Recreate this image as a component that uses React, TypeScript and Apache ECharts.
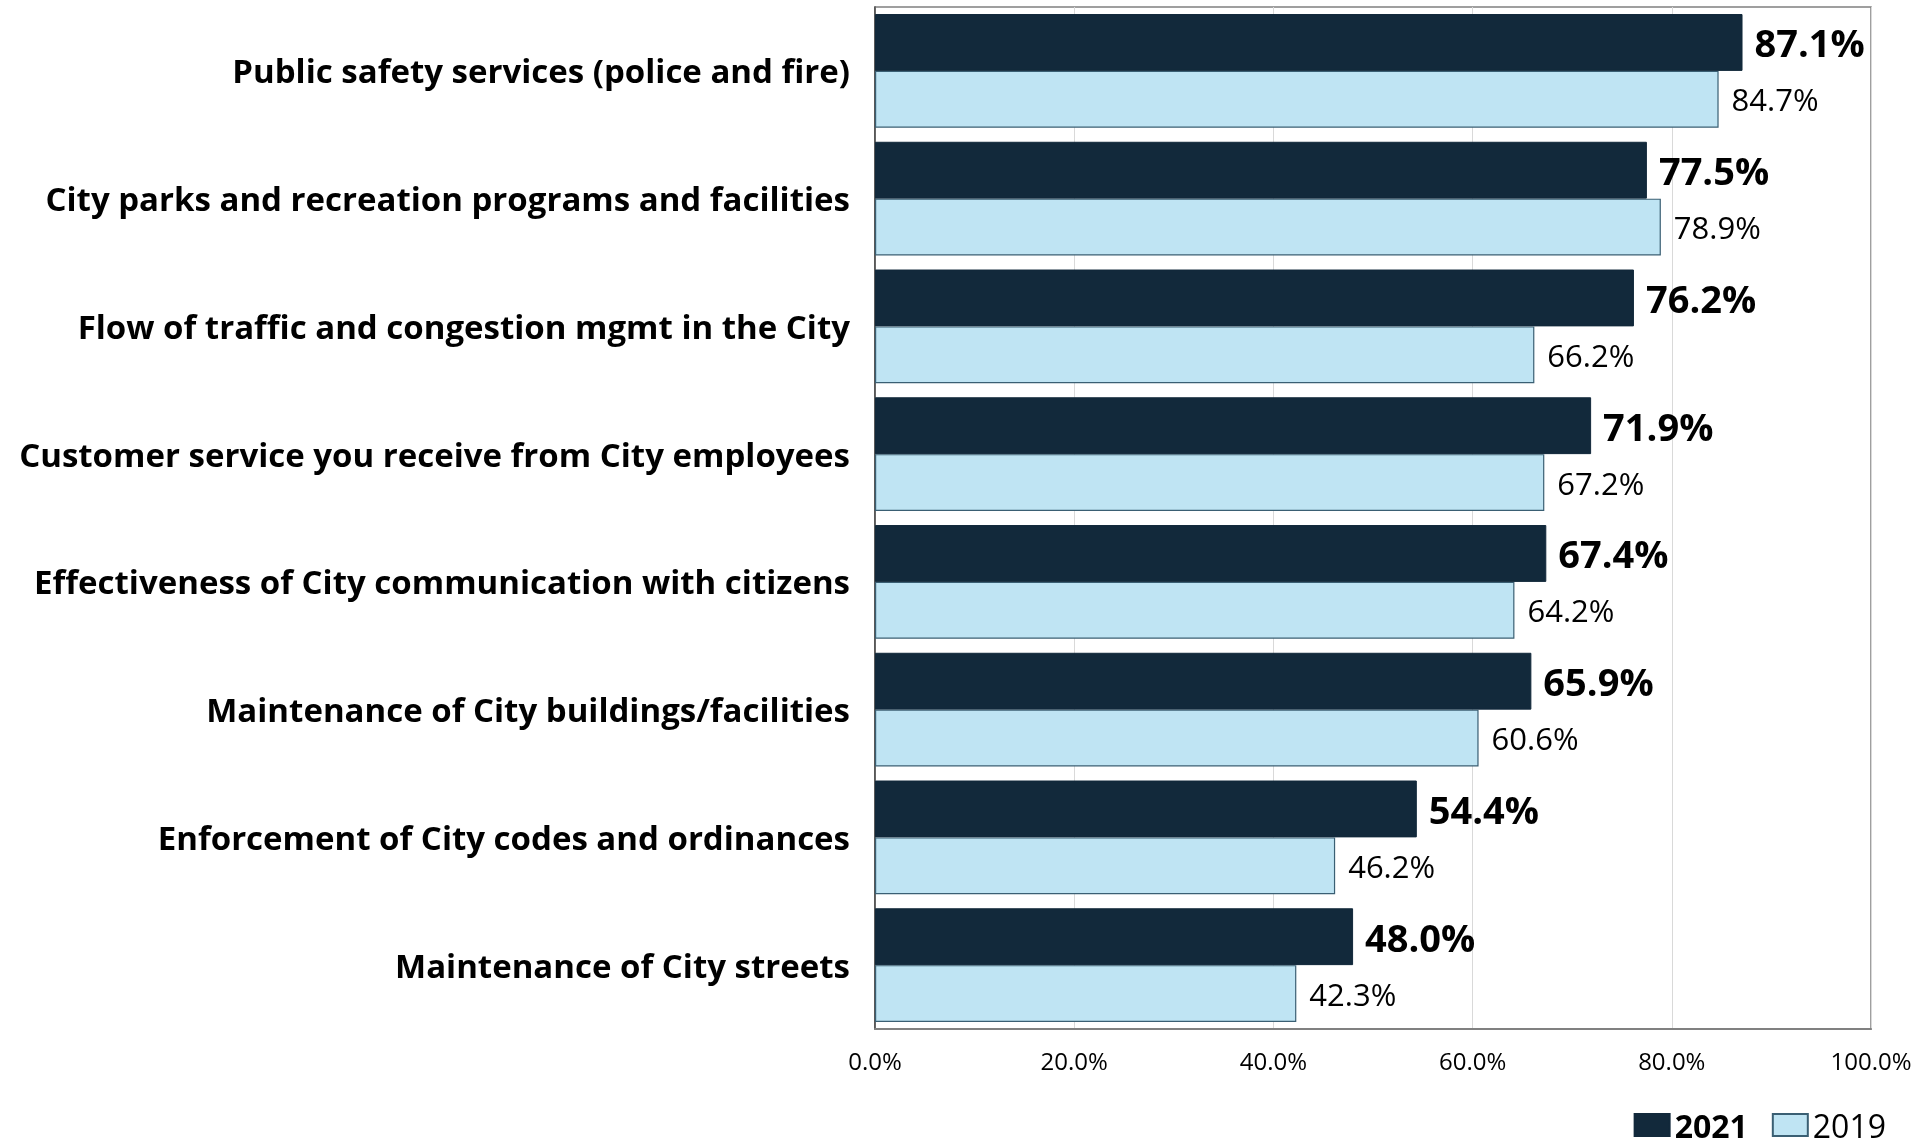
import React, { useEffect, useRef } from "react";
import * as echarts from "echarts";

const categories = [
  "Public safety services (police and fire)",
  "City parks and recreation programs and facilities",
  "Flow of traffic and congestion mgmt in the City",
  "Customer service you receive from City employees",
  "Effectiveness of City communication with citizens",
  "Maintenance of City buildings/facilities",
  "Enforcement of City codes and ordinances",
  "Maintenance of City streets",
];
const values2021 = [87.1, 77.5, 76.2, 71.9, 67.4, 65.9, 54.4, 48.0];
const values2019 = [84.7, 78.9, 66.2, 67.2, 64.2, 60.6, 46.2, 42.3];
const xTicks = [0, 20, 40, 60, 80, 100];

const FONT = "'Open Sans', 'Noto Sans', sans-serif";

export default function App() {
  const ref = useRef<HTMLDivElement>(null);
  useEffect(() => {
    if (!ref.current) return;
    const chart = echarts.init(ref.current, undefined, { renderer: "svg" });
    chart.setOption({
      animation: false,
      textStyle: { fontFamily: FONT },
      grid: {
        left: 875,
        right: 60,
        top: 7,
        bottom: 118,
        show: true,
        borderColor: "#808080",
        borderWidth: 1.5,
        containLabel: false,
      },
      legend: {
        right: 45,
        top: 1108,
        padding: 0,
        icon: "rect",
        itemWidth: 35,
        itemHeight: 22,
        itemGap: 24,
        textStyle: { fontFamily: FONT, fontSize: 32, lineHeight: 34, color: "#000" },
        data: [
          { name: "2021", textStyle: { fontWeight: "bold" } },
          { name: "2019", textStyle: { fontWeight: "normal" } },
        ],
      },
      xAxis: {
        type: "value",
        min: xTicks[0],
        max: xTicks[xTicks.length - 1],
        interval: 20,
        axisLine: { show: true, lineStyle: { color: "#808080", width: 2 } },
        axisTick: { show: false },
        splitLine: { show: true, lineStyle: { color: "#d9d9d9", width: 1 } },
        axisLabel: {
          margin: 19,
          fontSize: 24,
          color: "#000",
          fontFamily: FONT,
          formatter: (v: number) => v.toFixed(1) + "%",
        },
      },
      yAxis: {
        type: "category",
        inverse: true,
        data: categories,
        axisLine: { show: true, lineStyle: { color: "#404040", width: 1.5 } },
        axisTick: { show: false },
        axisLabel: {
          margin: 25,
          fontSize: 33,
          fontWeight: "bold",
          color: "#000",
          fontFamily: FONT,
        },
      },
      series: [
        {
          name: "2021",
          type: "bar",
          data: values2021,
          barGap: "0%",
          barCategoryGap: "11%",
          itemStyle: { color: "#12293b", borderColor: "#12293b", borderWidth: 1 },
          label: {
            show: true,
            position: "right",
            distance: 12,
            fontSize: 38,
            fontWeight: "bold",
            color: "#000",
            fontFamily: FONT,
            formatter: (p: any) => p.value.toFixed(1) + "%",
          },
        },
        {
          name: "2019",
          type: "bar",
          data: values2019,
          barGap: "0%",
          barCategoryGap: "11%",
          itemStyle: { color: "#bfe4f3", borderColor: "#3a5f73", borderWidth: 1.2 },
          label: {
            show: true,
            position: "right",
            distance: 13,
            fontSize: 31,
            color: "#000",
            fontFamily: FONT,
            formatter: (p: any) => p.value.toFixed(1) + "%",
          },
        },
      ],
    });
    return () => chart.dispose();
  }, []);
  return (
    <div
      ref={ref}
      style={{ position: "fixed", left: 0, top: 0, width: 1931, height: 1147 }}
    />
  );
}
